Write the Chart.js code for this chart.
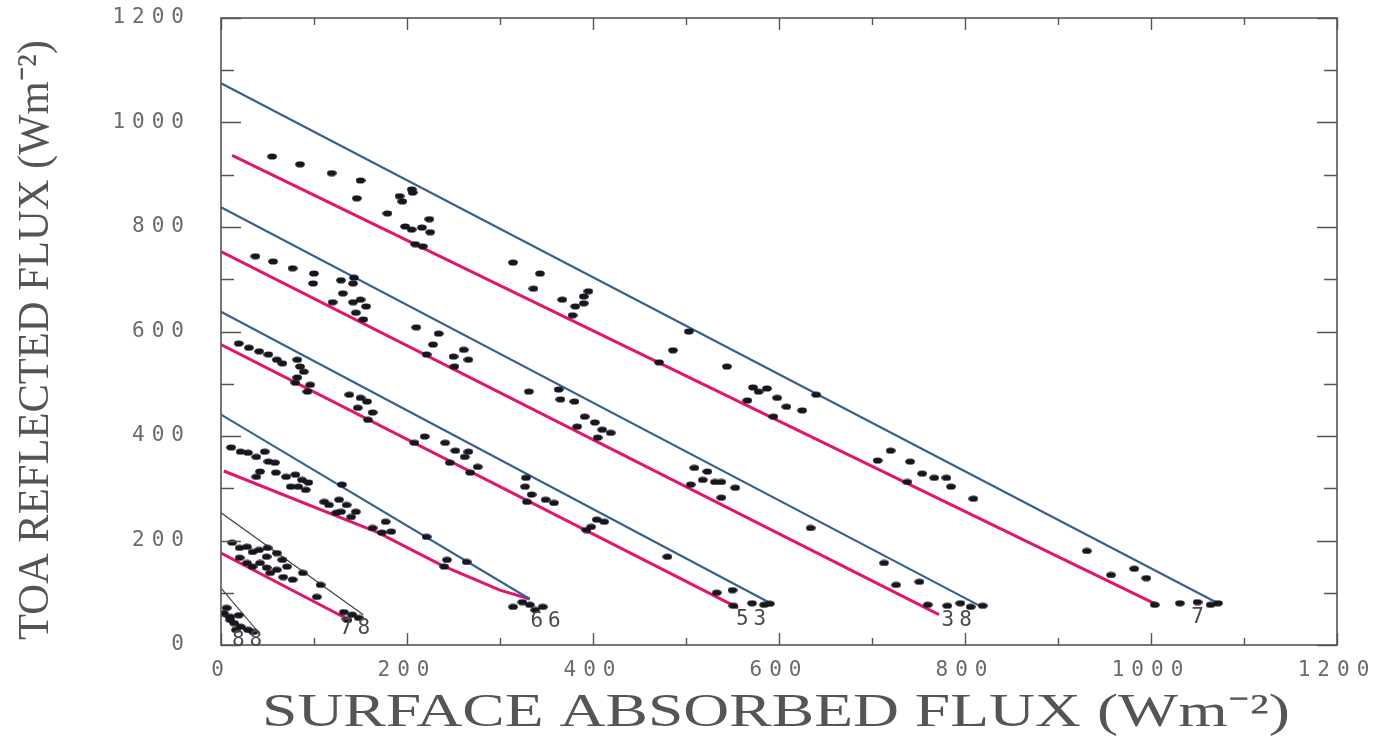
<!DOCTYPE html>
<html>
<head>
<meta charset="utf-8">
<script src="https://cdn.jsdelivr.net/npm/chart.js@4.4.1/dist/chart.umd.min.js"></script>
<style>
  html, body { margin: 0; padding: 0; background: #ffffff; }
  #wrap { width: 1380px; height: 750px; position: relative; }
</style>
</head>
<body>
<div id="wrap"><canvas id="c"></canvas></div>
<script>
// ---------------- data ----------------
const xTickValues = [0, 200, 400, 600, 800, 1000, 1200];
const xTickLabels = ['0', '200', '400', '600', '800', '1000', '1200'];
const yTickValues = [0, 200, 400, 600, 800, 1000, 1200];
const yTickLabels = ['0', '200', '400', '600', '800', '1000', '1200'];

const zenithAngles = ['7', '38', '53', '66', '78', '88'];
const zenithLabelX = [1050, 791, 570, 349, 144, 28];
const zenithLabelY = [52, 46, 48, 44, 31, 8];

const upper7  = [[0, 1075], [1072, 80]];
const lower7  = [[12, 937], [1004, 79]];
const upper38 = [[0, 838], [818, 73]];
const lower38 = [[0, 753], [772, 58]];
const upper53 = [[0, 638], [592, 79]];
const lower53 = [[0, 575], [556, 71]];
const upper66 = [[0, 441], [332, 88]];
const lower66 = [[3, 333], [169, 215], [238, 152], [300, 105], [332, 88]];
const upper78 = [[0, 253], [153, 58]];
const lower78 = [[0, 176], [140, 46]];
const upper88 = [[0, 109], [41, 23]];
const lower88 = [[0, 60], [35, 20]];

const dots7 = [[55,935],[85,920],[119,903],[150,889],[146,855],[192,859],[195,849],[205,872],[206,866],[179,826],[198,801],[205,795],[224,815],[225,790],[216,799],[209,767],[217,763],[314,732],[343,711],[336,682],[395,677],[390,667],[381,648],[367,661],[390,654],[378,631],[503,600],[486,564],[471,541],[544,533],[572,493],[587,491],[578,485],[598,473],[608,456],[625,449],[566,468],[640,479],[594,437],[720,372],[706,353],[741,351],[754,328],[767,320],[780,320],[785,303],[738,312],[809,280],[931,180],[957,134],[982,146],[995,128],[1004,77],[1031,80],[1050,82],[1064,77],[1072,80]];
const dots38 = [[37,744],[56,734],[77,721],[100,711],[99,692],[129,698],[142,692],[143,703],[131,673],[142,656],[150,661],[156,648],[145,636],[153,623],[120,656],[210,608],[234,596],[228,575],[221,556],[261,565],[266,546],[250,552],[251,533],[331,485],[363,489],[365,470],[380,466],[391,437],[402,426],[410,412],[419,406],[383,418],[405,397],[509,339],[523,332],[518,316],[531,312],[538,312],[553,301],[505,307],[538,282],[634,224],[713,157],[751,121],[726,115],[760,77],[781,75],[795,80],[806,73],[819,75]];
const dots53 = [[19,577],[30,569],[41,562],[51,556],[60,546],[66,539],[82,546],[85,533],[89,523],[82,512],[80,502],[96,498],[93,485],[138,479],[150,473],[157,466],[147,454],[163,445],[158,431],[208,387],[219,399],[241,387],[252,372],[262,360],[266,370],[246,349],[276,341],[268,330],[328,320],[327,303],[334,288],[349,278],[358,272],[329,274],[398,226],[404,240],[412,236],[393,220],[480,169],[533,100],[550,105],[551,75],[571,80],[584,77],[590,79]];
const dots66 = [[11,378],[21,370],[29,368],[38,360],[47,370],[51,351],[58,349],[42,332],[38,322],[59,330],[70,322],[80,326],[87,316],[94,311],[83,303],[91,297],[75,303],[111,274],[116,268],[127,278],[135,268],[129,255],[140,245],[124,253],[145,255],[130,307],[163,224],[173,215],[183,217],[177,236],[221,207],[240,150],[243,163],[264,159],[314,73],[324,82],[332,77],[338,67],[346,73]];
const dots78 = [[12,196],[20,186],[28,188],[34,178],[41,182],[50,186],[49,169],[60,176],[66,163],[71,150],[77,125],[67,130],[60,144],[42,157],[20,167],[28,157],[34,150],[49,148],[53,138],[88,138],[107,115],[103,92],[132,63],[141,58],[148,52],[136,48]];
const dots88 = [[3,61],[6,71],[10,54],[10,48],[14,42],[19,57],[21,35],[16,29],[29,29],[35,25]];

// ---------------- styling helpers ----------------
const BLUE = '#36608f';
const MAGENTA = '#e2166e';
const THIN = '#3a3a3a';
const DOT = '#17161f';

const dotImg = document.createElement('canvas');
dotImg.width = 10; dotImg.height = 7;
(function () {
  const g = dotImg.getContext('2d');
  g.fillStyle = DOT;
  g.beginPath();
  g.ellipse(5, 3.5, 4.8, 3.1, 0, 0, Math.PI * 2);
  g.fill();
})();

const toXY = arr => arr.map(([x, y]) => ({ x, y }));

function lineDS(pts, color, width) {
  return {
    data: toXY(pts), showLine: true, borderColor: color, borderWidth: width,
    pointRadius: 0, pointHoverRadius: 0, fill: false, tension: 0, order: 2
  };
}
function dotDS(pts) {
  return {
    data: toXY(pts), showLine: false, pointStyle: dotImg, pointRadius: 5,
    pointHoverRadius: 5, backgroundColor: DOT, borderColor: DOT, order: 0
  };
}

const datasets = [
  dotDS(dots7), dotDS(dots38), dotDS(dots53), dotDS(dots66), dotDS(dots78), dotDS(dots88),
  lineDS(upper7, BLUE, 2.2), lineDS(lower7, MAGENTA, 3),
  lineDS(upper38, BLUE, 2.2), lineDS(lower38, MAGENTA, 3),
  lineDS(upper53, BLUE, 2.2), lineDS(lower53, MAGENTA, 3),
  lineDS(upper66, BLUE, 2.2), lineDS(lower66, MAGENTA, 3),
  lineDS(upper78, THIN, 1.1), lineDS(lower78, MAGENTA, 3),
  lineDS(upper88, THIN, 1.1), lineDS(lower88, MAGENTA, 3)
];

const TICK_FONT = { family: '"DejaVu Sans Mono", "Liberation Mono", monospace', size: 21 };

function noPad(s) { s.paddingTop = 0; s.paddingBottom = 0; s.paddingLeft = 0; s.paddingRight = 0; }

const framePlugin = {
  id: 'frame',
  beforeDraw(chart) {
    chart.ctx.letterSpacing = '7px';
  },
  afterDraw(chart) {
    const { ctx, chartArea: a, scales } = chart;
    const xs = scales.x, ys = scales.y;
    ctx.save();
    ctx.letterSpacing = '0px';
    // frame box
    ctx.strokeStyle = '#555';
    ctx.lineWidth = 1.6;
    ctx.strokeRect(a.left, a.top, a.right - a.left, a.bottom - a.top);
    // inward tick marks on all four sides
    ctx.lineWidth = 1.4;
    ctx.beginPath();
    xs.ticks.forEach(t => {
      const px = Math.round(xs.getPixelForValue(t.value)) + 0.5;
      const len = (t.value % 200 === 0) ? 12 : 7;
      ctx.moveTo(px, a.bottom); ctx.lineTo(px, a.bottom - len);
      ctx.moveTo(px, a.top); ctx.lineTo(px, a.top + len);
    });
    ys.ticks.forEach(t => {
      const py = Math.round(ys.getPixelForValue(t.value)) + 0.5;
      const len = (t.value % 200 === 0) ? 20 : 13;
      ctx.moveTo(a.left, py); ctx.lineTo(a.left + len, py);
      ctx.moveTo(a.right, py); ctx.lineTo(a.right - len, py);
    });
    ctx.stroke();

    // zenith angle labels
    ctx.font = '21px "DejaVu Sans Mono", "Liberation Mono", monospace';
    ctx.letterSpacing = '5px';
    ctx.fillStyle = '#4a4a4a';
    ctx.textAlign = 'center';
    ctx.textBaseline = 'middle';
    zenithAngles.forEach((lab, i) => {
      ctx.fillText(lab, xs.getPixelForValue(zenithLabelX[i]) + 2.5, ys.getPixelForValue(zenithLabelY[i]));
    });

    // axis titles
    ctx.letterSpacing = '0px';
    ctx.fillStyle = '#555';
    ctx.textAlign = 'center';
    ctx.textBaseline = 'alphabetic';
    const xt = 'SURFACE ABSORBED FLUX (Wm\u207B\u00B2)';
    ctx.font = '46px "Liberation Serif", "Times New Roman", serif';
    const wx = ctx.measureText(xt).width;
    ctx.save();
    ctx.translate(776, 726);
    ctx.scale(1028 / wx, 1);
    ctx.fillText(xt, 0, 0);
    ctx.restore();

    const yt = 'TOA REFLECTED FLUX (Wm\u207B\u00B2)';
    ctx.font = '44px "Liberation Serif", "Times New Roman", serif';
    const wy = ctx.measureText(yt).width;
    ctx.save();
    ctx.translate(48, 340);
    ctx.rotate(-Math.PI / 2);
    ctx.scale(600 / wy, 1);
    ctx.fillText(yt, 0, 0);
    ctx.restore();

    ctx.restore();
  }
};

new Chart(document.getElementById('c'), {
  type: 'scatter',
  data: { datasets },
  options: {
    responsive: true,
    maintainAspectRatio: false,
    animation: false,
    events: [],
    layout: { padding: { top: 18, right: 43, left: 0, bottom: 0 } },
    plugins: { legend: { display: false }, tooltip: { enabled: false }, title: { display: false } },
    scales: {
      x: {
        type: 'linear', min: 0, max: 1200,
        grid: { display: false, drawTicks: false },
        border: { display: false },
        ticks: {
          stepSize: 100, autoSkip: false, maxRotation: 0, minRotation: 0,
          padding: 13, color: '#6a6a6a', font: TICK_FONT,
          callback: v => { const i = xTickValues.indexOf(v); return i >= 0 ? xTickLabels[i] : ''; }
        },
        afterFit: s => { s.height = 105; noPad(s); }
      },
      y: {
        type: 'linear', min: 0, max: 1200,
        grid: { display: false, drawTicks: false },
        border: { display: false },
        ticks: {
          stepSize: 100, autoSkip: false,
          padding: 30, color: '#6a6a6a', font: TICK_FONT,
          callback: v => { const i = yTickValues.indexOf(v); return i >= 0 ? yTickLabels[i] : ''; }
        },
        afterFit: s => { s.width = 221; noPad(s); }
      }
    }
  },
  plugins: [framePlugin]
});
</script>
</body>
</html>
